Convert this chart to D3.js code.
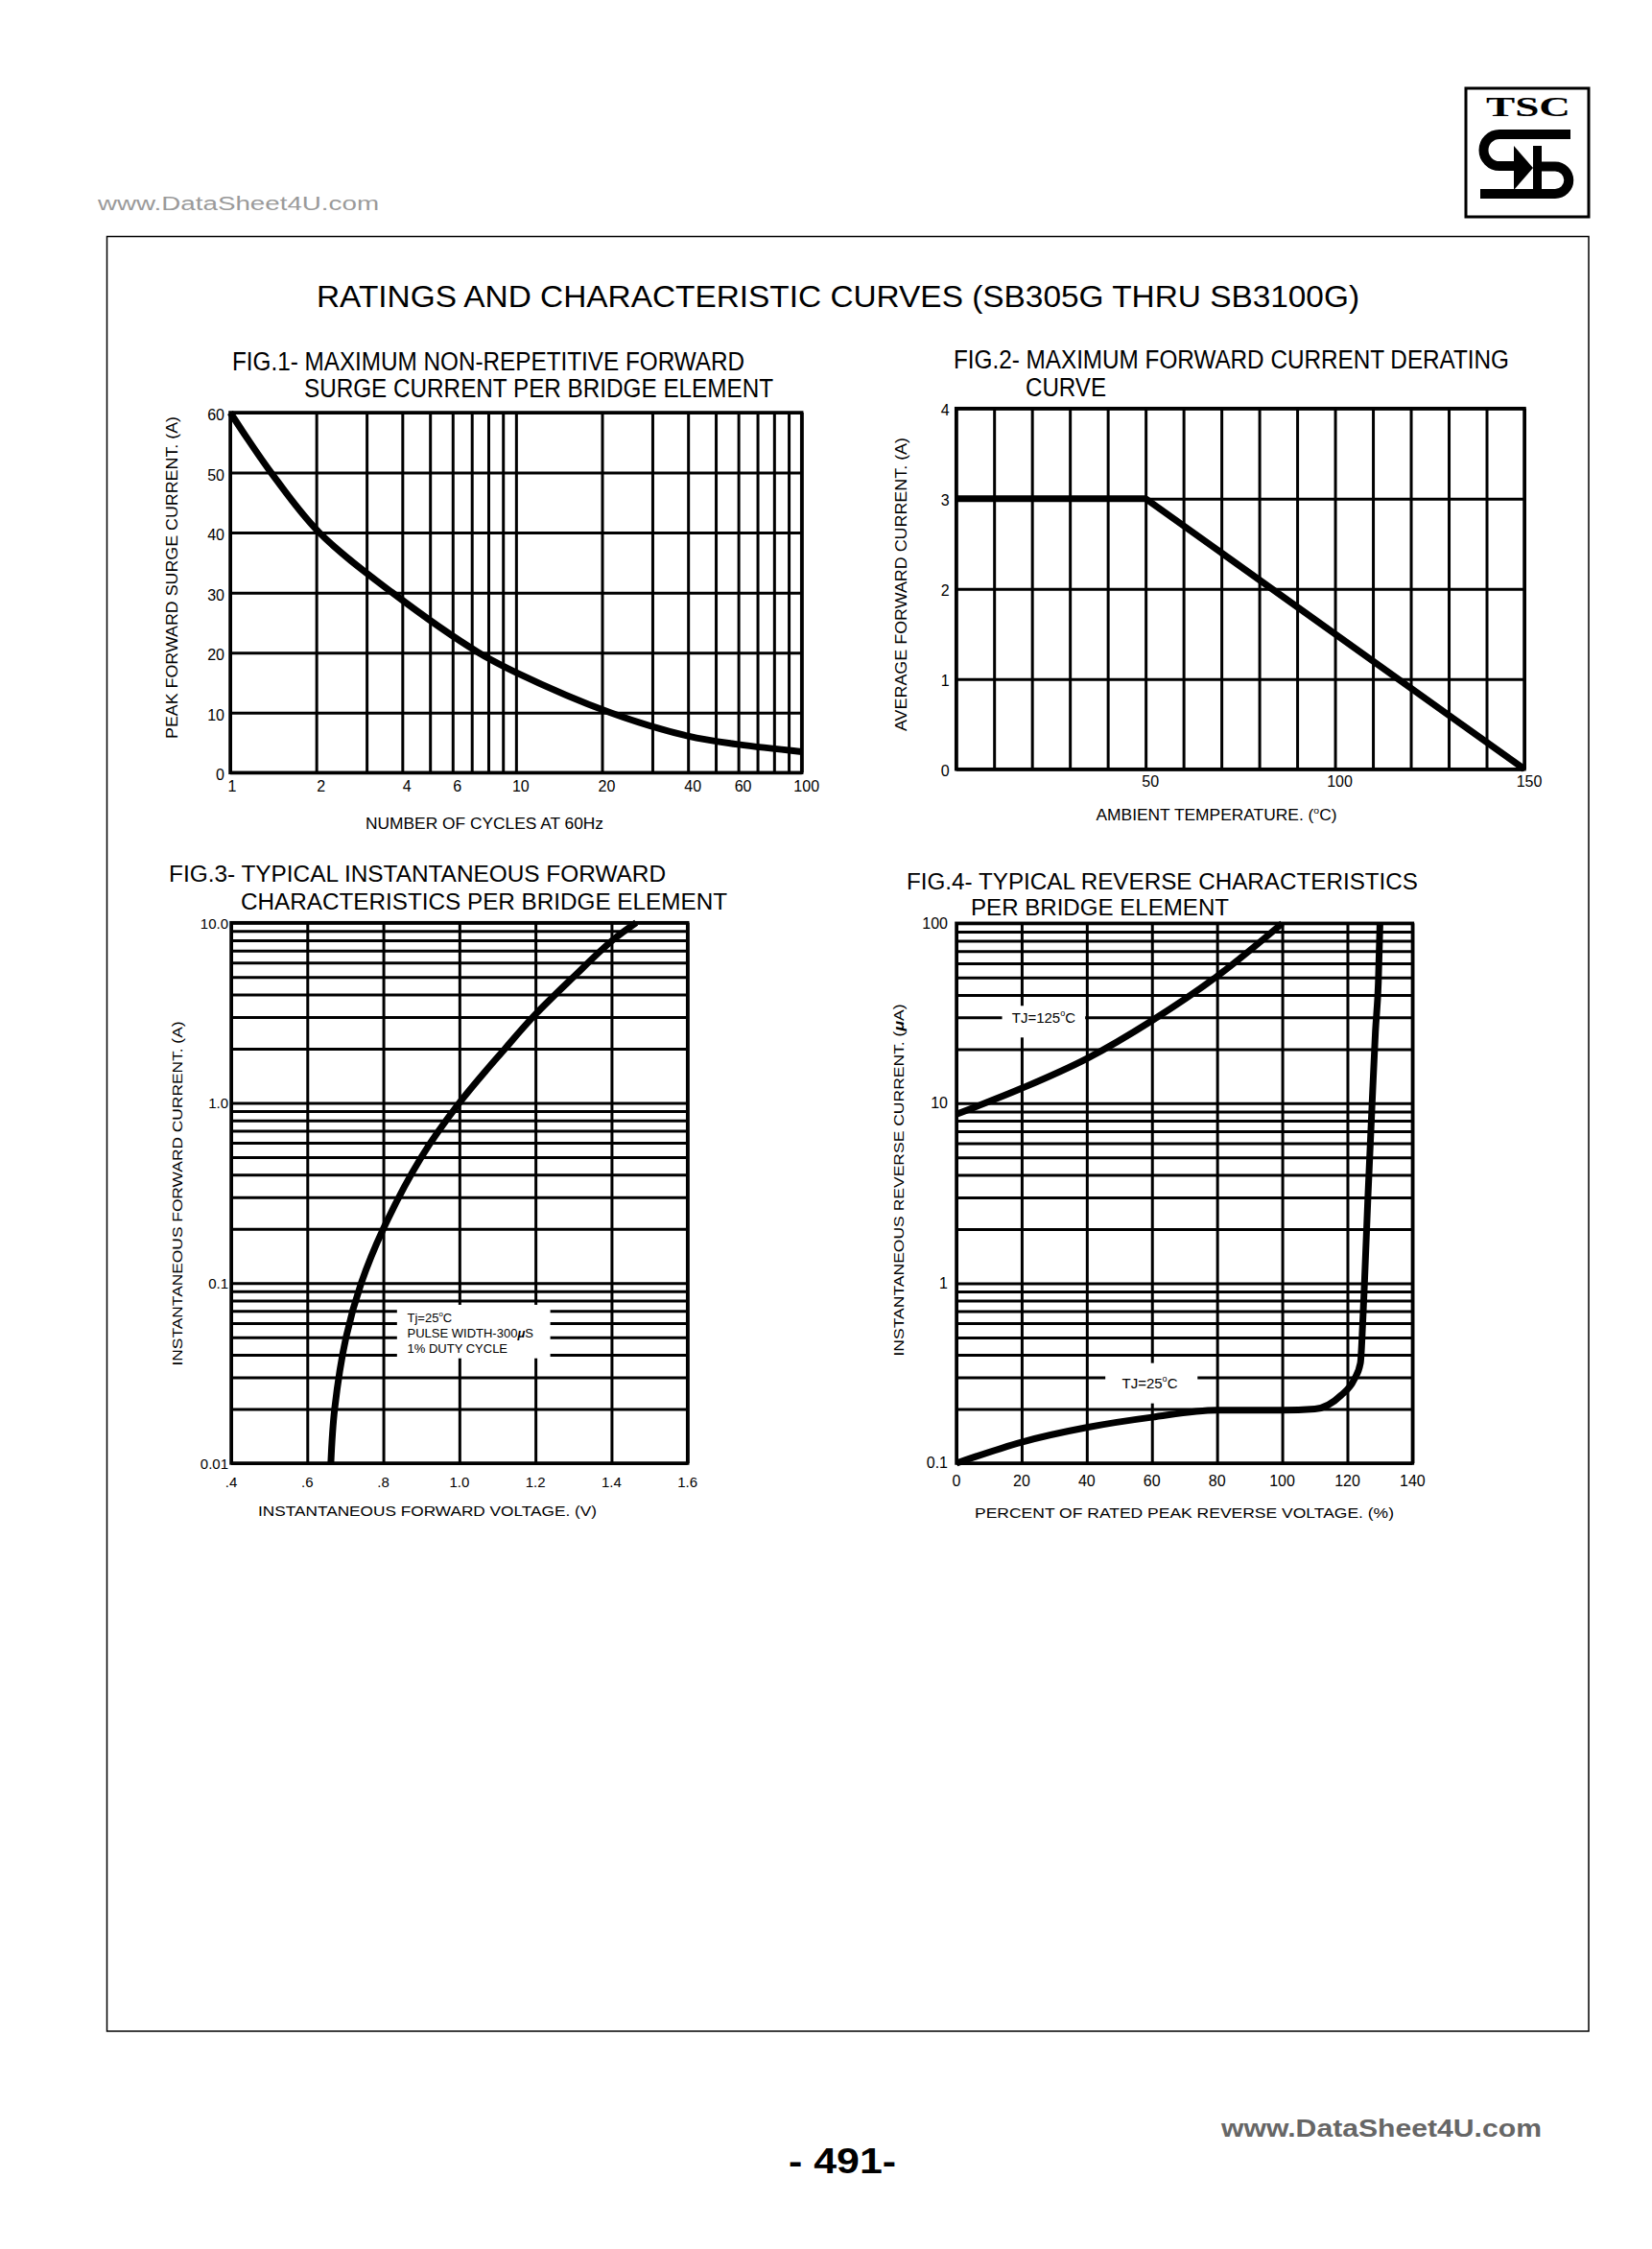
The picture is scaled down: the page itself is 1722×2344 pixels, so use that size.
<!DOCTYPE html>
<html>
<head>
<meta charset="utf-8">
<script src="https://cdn.jsdelivr.net/npm/d3@7"></script>
<style>
  body { margin: 0; background: #fff; }
  svg { display: block; }
</style>
</head>
<body>
<svg id="canvas"></svg>
<script>
// fig.1 surge current vs cycles
const surgeCycles  = [1, 1.39, 2.05, 3.69, 7.4, 10, 21.4, 40, 60, 100]
const surgeCurrent = [60, 50, 40, 30, 20, 16.7, 10, 6.1, 4.7, 3.5]
const surgeXLabels = [1, 2, 4, 6, 10, 20, 40, 60, 100]
const surgeYTicks  = [0, 10, 20, 30, 40, 50, 60]

// fig.2 derating
const deratingTemp    = [0, 50, 150]
const deratingCurrent = [3, 3, 0]
const deratingXGrid   = [0, 10, 20, 30, 40, 50, 60, 70, 80, 90, 100, 110, 120, 130, 140, 150]
const deratingXLabels = [50, 100, 150]
const deratingYTicks  = [0, 1, 2, 3, 4]

// fig.3 forward characteristics
const fwdVoltage = [0.662, 0.672, 0.702, 0.742, 0.8, 0.9, 1.0, 1.12, 1.2, 1.3, 1.4, 1.465]
const fwdCurrent = [0.01, 0.02, 0.05, 0.1, 0.2, 0.5, 1.0, 2.0, 3.1, 5.0, 7.9, 10.0]
const fwdXTicks  = [0.4, 0.6, 0.8, 1.0, 1.2, 1.4, 1.6]
const fwdXLabels = [".4", ".6", ".8", "1.0", "1.2", "1.4", "1.6"]
const fwdYTicks  = [0.01, 0.1, 1, 10]
const fwdYLabels = ["0.01", "0.1", "1.0", "10.0"]

// fig.4 reverse characteristics
const revXTicks  = [0, 20, 40, 60, 80, 100, 120, 140]
const revYTicks  = [0.1, 1, 10, 100]
const revYLabels = ["0.1", "1", "10", "100"]
const rev125Pct  = [0, 20, 40, 60, 80, 100]
const rev125Cur  = [8.7, 12.1, 17.7, 28.8, 50.8, 100]
const rev25Pct   = [0, 20, 40, 60, 80, 100, 110, 118, 122, 124, 124.7, 125.3, 126.3, 127.5, 128.6, 129.5, 130]
const rev25Cur   = [0.1, 0.131, 0.158, 0.18, 0.197, 0.197, 0.2, 0.238, 0.29, 0.36, 0.6, 1.06, 3, 9.2, 25, 47, 100]

const NARROW = "'Liberation Sans Narrow','Arial Narrow','Liberation Sans',Arial,sans-serif"
const ARIAL  = "'Liberation Sans',Arial,sans-serif"

const svg = d3.select("#canvas").attr("width", 1722).attr("height", 2344)
svg.append("rect").attr("width", 1722).attr("height", 2344).attr("fill", "#fff")

function txt(parent, x, y, s, o) {
  o = o || {}
  const t = parent.append("text").attr("x", x).attr("y", y)
    .attr("font-family", o.font || ARIAL)
    .attr("font-size", o.size || 16)
    .attr("fill", o.fill || "#000")
    .attr("text-anchor", o.anchor || "start")
    .text(s)
  if (o.weight) t.attr("font-weight", o.weight)
  if (o.len) t.attr("textLength", o.len).attr("lengthAdjust", "spacingAndGlyphs")
  return t
}

// degree-style superscript "o"
function degText(parent, x, y, before, after, o) {
  const t = txt(parent, x, y, "", o)
  t.append("tspan").text(before)
  t.append("tspan").attr("dy", -0.45 * o.size).attr("font-size", o.size * 0.6).text("o")
  t.append("tspan").attr("dy", 0.45 * o.size).text(after)
  return t
}

function panel(o) {
  const w = o.right - o.left, h = o.bottom - o.top
  o.x.range([0, w]); o.y.range([h, 0])
  const g = svg.append("g").attr("transform", `translate(${o.left},${o.top})`)
  g.append("g").attr("transform", `translate(0,${h})`)
    .call(d3.axisBottom(o.x).tickValues(o.xGrid).tickSize(-h).tickFormat(""))
    .call(s => s.select(".domain").remove())
    .selectAll("line").attr("stroke", "#000").attr("stroke-width", 3)
  g.append("g")
    .call(d3.axisLeft(o.y).tickValues(o.yGrid).tickSize(-w).tickFormat(""))
    .call(s => s.select(".domain").remove())
    .selectAll("line").attr("stroke", "#000").attr("stroke-width", 3)
  return { g, w, h, x: o.x, y: o.y }
}

function frame(p) {
  p.g.append("rect").attr("width", p.w).attr("height", p.h)
    .attr("fill", "none").attr("stroke", "#000").attr("stroke-width", 3.5)
}

function curve(p, xs, ys, c) {
  const pts = xs.map((v, i) => [v, ys[i]])
  p.g.append("path").datum(pts)
    .attr("d", d3.line().x(d => p.x(d[0])).y(d => p.y(d[1])).curve(c || d3.curveMonotoneX))
    .attr("fill", "none").attr("stroke", "#000").attr("stroke-width", 7)
}

// ---------- page furniture ----------
txt(svg, 102, 219, "www.DataSheet4U.com", { size: 20, fill: "#9a9a9a", len: 293 })
svg.append("rect").attr("x", 111.5).attr("y", 246.5).attr("width", 1544.5).attr("height", 1870.5)
  .attr("fill", "none").attr("stroke", "#000").attr("stroke-width", 1.5)

// logo
const logo = svg.append("g")
logo.append("rect").attr("x", 1528).attr("y", 92).attr("width", 128).attr("height", 134)
  .attr("fill", "none").attr("stroke", "#000").attr("stroke-width", 3)
txt(logo, 1593, 121, "TSC", { font: "'Liberation Serif','DejaVu Serif',serif", size: 30, weight: "bold", anchor: "middle", len: 88 })
logo.append("path").attr("d", "M1637,140 L1563,140 A16.5,16.5 0 0 0 1563,173 L1580,173")
  .attr("fill", "none").attr("stroke", "#000").attr("stroke-width", 10)
logo.append("path").attr("d", "M1578,152 L1598,175 L1578,198 Z").attr("fill", "#000")
logo.append("rect").attr("x", 1598).attr("y", 152).attr("width", 9).attr("height", 46).attr("fill", "#000")
logo.append("path").attr("d", "M1605,173.5 L1621,173.5 A14,14 0 0 1 1621,202 L1543,202")
  .attr("fill", "none").attr("stroke", "#000").attr("stroke-width", 10)

txt(svg, 330, 320, "RATINGS AND CHARACTERISTIC CURVES (SB305G THRU SB3100G)", { size: 31, len: 1087 })

// ---------- FIG.1 ----------
txt(svg, 242, 386, "FIG.1- MAXIMUM NON-REPETITIVE FORWARD", { font: NARROW, size: 27, len: 534 })
txt(svg, 317, 414, "SURGE CURRENT PER BRIDGE ELEMENT", { font: NARROW, size: 27, len: 489 })
const p1 = panel({
  left: 240, right: 835.7, top: 430, bottom: 805.3,
  x: d3.scaleLog().domain([1, 100]), y: d3.scaleLinear().domain([0, 60]),
  xGrid: d3.scaleLog().domain([1, 100]).ticks(), yGrid: surgeYTicks
})
frame(p1)
curve(p1, surgeCycles, surgeCurrent, d3.curveCatmullRom.alpha(0.5))
p1.g.selectAll(".xl").data(surgeXLabels).enter().append("text")
  .attr("x", (d, i) => p1.x(d) + (i ? 5 : 2)).attr("y", p1.h + 20).attr("text-anchor", "middle")
  .attr("font-family", NARROW).attr("font-size", 16).text(d => d)
p1.g.selectAll(".yl").data(surgeYTicks).enter().append("text")
  .attr("x", -6).attr("y", d => p1.y(d) + 8).attr("text-anchor", "end")
  .attr("font-family", NARROW).attr("font-size", 16).text(d => d)
txt(svg, 505, 864, "NUMBER OF CYCLES AT 60Hz", { font: NARROW, size: 16, anchor: "middle", len: 248 })
txt(svg, 0, 0, "PEAK FORWARD SURGE CURRENT. (A)", { font: NARROW, size: 16, anchor: "middle", len: 336 })
  .attr("transform", "translate(185,602) rotate(-90)")

// ---------- FIG.2 ----------
txt(svg, 994, 384, "FIG.2- MAXIMUM FORWARD CURRENT DERATING", { font: NARROW, size: 27, len: 579 })
txt(svg, 1069, 413, "CURVE", { font: NARROW, size: 27, len: 84 })
const p2 = panel({
  left: 996.7, right: 1589, top: 425.7, bottom: 801.7,
  x: d3.scaleLinear().domain([0, 150]), y: d3.scaleLinear().domain([0, 4]),
  xGrid: deratingXGrid, yGrid: deratingYTicks
})
frame(p2)
curve(p2, deratingTemp, deratingCurrent, d3.curveLinear)
p2.g.selectAll(".xl").data(deratingXLabels).enter().append("text")
  .attr("x", d => p2.x(d) + 5).attr("y", p2.h + 18).attr("text-anchor", "middle")
  .attr("font-family", NARROW).attr("font-size", 16).text(d => d)
p2.g.selectAll(".yl").data(deratingYTicks).enter().append("text")
  .attr("x", -7).attr("y", d => p2.y(d) + 7.5).attr("text-anchor", "end")
  .attr("font-family", NARROW).attr("font-size", 16).text(d => d)
degText(svg, 1268, 855, "AMBIENT TEMPERATURE. (", "C)", { font: NARROW, size: 16, anchor: "middle", len: 251 })
txt(svg, 0, 0, "AVERAGE FORWARD CURRENT. (A)", { font: NARROW, size: 16, anchor: "middle", len: 306 })
  .attr("transform", "translate(945,609) rotate(-90)")

// ---------- FIG.3 ----------
txt(svg, 176, 919, "FIG.3- TYPICAL INSTANTANEOUS FORWARD", { size: 23, len: 518 })
txt(svg, 251, 948, "CHARACTERISTICS PER BRIDGE ELEMENT", { size: 23, len: 507 })
const p3 = panel({
  left: 241, right: 716.7, top: 961.7, bottom: 1525,
  x: d3.scaleLinear().domain([0.4, 1.6]), y: d3.scaleLog().domain([0.01, 10]),
  xGrid: fwdXTicks, yGrid: d3.scaleLog().domain([0.01, 10]).ticks()
})
// white box behind the test-condition note
p3.g.append("rect")
  .attr("x", p3.x(0.836)).attr("y", p3.y(0.0757))
  .attr("width", p3.x(1.239) - p3.x(0.836)).attr("height", p3.y(0.0382) - p3.y(0.0757))
  .attr("fill", "#fff")
frame(p3)
curve(p3, fwdVoltage, fwdCurrent, d3.curveCatmullRom.alpha(0.5))
const noteX = p3.x(0.863)
degText(p3.g, noteX, p3.y(0.0641) + 4.5, "Tj=25", "C", { size: 13 })
const pw = txt(p3.g, noteX, p3.y(0.0528) + 4.5, "", { size: 13 })
pw.append("tspan").text("PULSE WIDTH-300")
pw.append("tspan").attr("font-style", "italic").attr("font-weight", "bold").text("\u03bc")
pw.append("tspan").text("S")
txt(p3.g, noteX, p3.y(0.0435) + 4.5, "1% DUTY CYCLE", { size: 13 })
p3.g.selectAll(".xl").data(fwdXTicks).enter().append("text")
  .attr("x", d => p3.x(d)).attr("y", p3.h + 25).attr("text-anchor", "middle")
  .attr("font-family", ARIAL).attr("font-size", 15).text((d, i) => fwdXLabels[i])
p3.g.selectAll(".yl").data(fwdYTicks).enter().append("text")
  .attr("x", -3).attr("y", d => p3.y(d) + 6).attr("text-anchor", "end")
  .attr("font-family", ARIAL).attr("font-size", 15).text((d, i) => fwdYLabels[i])
txt(svg, 445.5, 1580, "INSTANTANEOUS FORWARD VOLTAGE. (V)", { size: 15, anchor: "middle", len: 353 })
txt(svg, 0, 0, "INSTANTANEOUS FORWARD CURRENT. (A)", { size: 15, anchor: "middle", len: 359 })
  .attr("transform", "translate(190,1244) rotate(-90)")

// ---------- FIG.4 ----------
txt(svg, 945, 927, "FIG.4- TYPICAL REVERSE CHARACTERISTICS", { size: 23, len: 533 })
txt(svg, 1012, 954, "PER BRIDGE ELEMENT", { size: 23, len: 269 })
const p4 = panel({
  left: 997, right: 1472.4, top: 962.3, bottom: 1525,
  x: d3.scaleLinear().domain([0, 140]), y: d3.scaleLog().domain([0.1, 100]),
  xGrid: revXTicks, yGrid: d3.scaleLog().domain([0.1, 100]).ticks()
})
p4.g.append("rect")
  .attr("x", p4.x(14)).attr("y", p4.y(34.8))
  .attr("width", p4.x(39.5) - p4.x(14)).attr("height", p4.y(23.2) - p4.y(34.8))
  .attr("fill", "#fff")
p4.g.append("rect")
  .attr("x", p4.x(45.7)).attr("y", p4.y(0.36))
  .attr("width", p4.x(74) - p4.x(45.7)).attr("height", p4.y(0.215) - p4.y(0.36))
  .attr("fill", "#fff")
frame(p4)
curve(p4, rev125Pct, rev125Cur)
curve(p4, rev25Pct, rev25Cur)
degText(p4.g, p4.x(17), p4.y(30) + 5.5, "TJ=125", "C", { size: 15 })
degText(p4.g, p4.x(50.8), p4.y(0.28) + 5.5, "TJ=25", "C", { size: 15 })
p4.g.selectAll(".xl").data(revXTicks).enter().append("text")
  .attr("x", d => p4.x(d)).attr("y", p4.h + 24).attr("text-anchor", "middle")
  .attr("font-family", ARIAL).attr("font-size", 16).text(d => d)
p4.g.selectAll(".yl").data(revYTicks).enter().append("text")
  .attr("x", -9).attr("y", d => p4.y(d) + 5.5).attr("text-anchor", "end")
  .attr("font-family", ARIAL).attr("font-size", 16).text((d, i) => revYLabels[i])
txt(svg, 1234.5, 1582, "PERCENT OF RATED PEAK REVERSE VOLTAGE. (%)", { size: 15, anchor: "middle", len: 437 })
const ry = txt(svg, 0, 0, "", { size: 15, anchor: "middle", len: 367 })
  .attr("transform", "translate(942,1230) rotate(-90)")
ry.append("tspan").text("INSTANTANEOUS REVERSE CURRENT. (")
ry.append("tspan").attr("font-style", "italic").attr("font-weight", "bold").text("\u03bc")
ry.append("tspan").text("A)")

// ---------- footer ----------
txt(svg, 1273, 2227, "www.DataSheet4U.com", { size: 25, weight: "bold", fill: "#666", len: 334 })
txt(svg, 878, 2265, "- 491-", { size: 36, weight: "bold", anchor: "middle", len: 112 })
</script>
</body>
</html>
